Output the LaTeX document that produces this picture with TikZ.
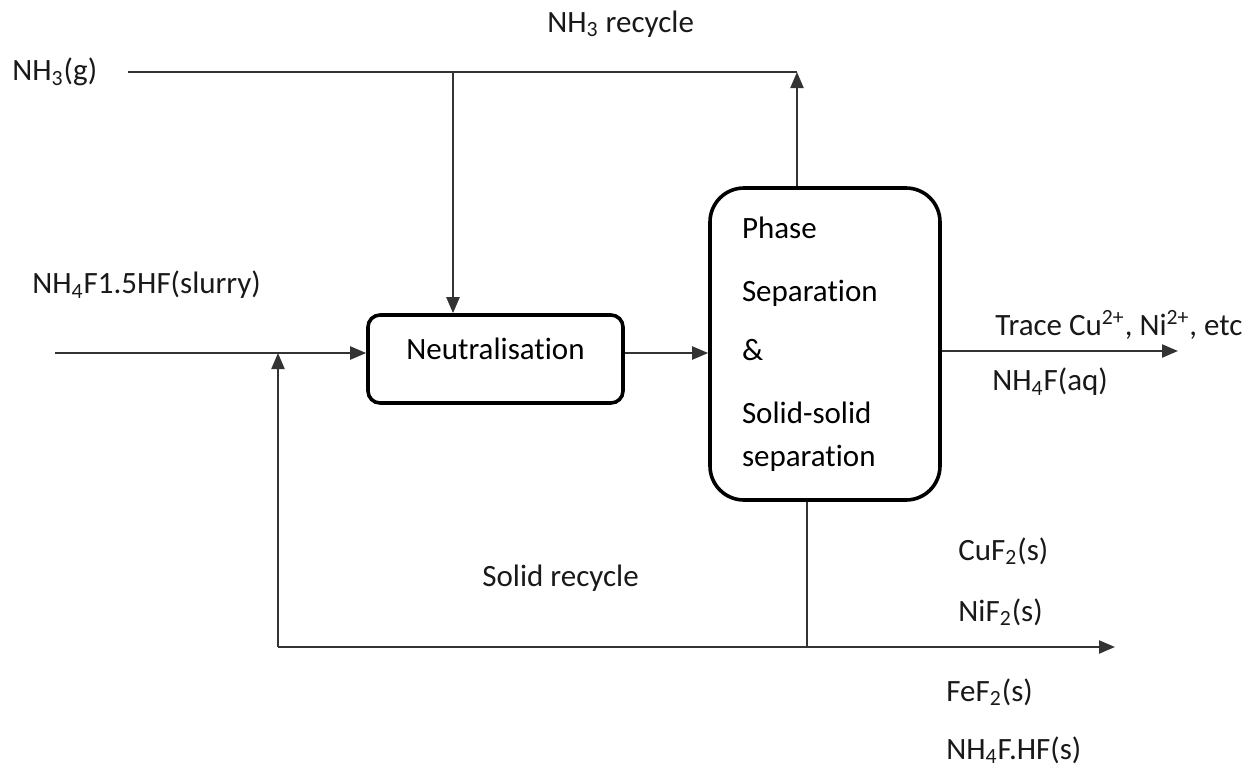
\documentclass[tikz,border=0pt]{standalone}
\usepackage{fontspec}
\setmainfont[Ligatures=NoCommon,Contextuals=NoAlternate,RawFeature=-dlig]{Carlito}
\usetikzlibrary{arrows.meta}

\begin{document}
\begin{tikzpicture}[x=0.5pt,y=-0.5pt,
    font=\fontsize{15.5}{18}\selectfont,
    unit/.style={draw,line width=1.8pt,fill=white},
    stream/.style={line width=1.1pt,draw=black!80},
    flow/.style={stream,-{Triangle[length=8pt,width=6.5pt]}},
    tag/.style={anchor=west,inner sep=0pt,text=black!90}]
  \useasboundingbox (0,0) rectangle (1250,767);

  % process units
  \node at (495.5,359) [unit,rounded corners=6pt,minimum width=127.5pt,minimum height=44pt,text depth=10pt] (neut) {
    Neutralisation
  };

  \node at (825,344) [unit,rounded corners=17pt,minimum width=115pt,minimum height=156pt,
    inner xsep=16pt,text width=83pt,align=left,font=\fontsize{15.5}{21.5}\selectfont] (sep) {
    Phase\\[10pt]Separation\\[8pt]\&\\[10pt]Solid-solid\\separation
  };

  % stream labels
  \node at (12,72) [tag] (gas) {NH\textsubscript{3}(g)};
  \node at (547,24) [tag] (nhrec) {NH\textsubscript{3} recycle};
  \node at (32,285) [tag] (slurry) {NH\textsubscript{4}F1.5HF(slurry)};
  \node at (995,325) [tag] (trace) {Trace Cu\textsuperscript{2+}, Ni\textsuperscript{2+}, etc};
  \node at (992,382) [tag] (liquor) {NH\textsubscript{4}F(aq)};
  \node at (482,578) [tag] (solrec) {Solid recycle};
  \node at (958,551) [tag] (cu) {CuF\textsubscript{2}(s)};
  \node at (958,612) [tag] (ni) {NiF\textsubscript{2}(s)};
  \node at (946,692) [tag] (fe) {FeF\textsubscript{2}(s)};
  \node at (946,750) [tag] (bif) {NH\textsubscript{4}F.HF(s)};

  % end points of the streams
  \coordinate (gasin) at (128,72);
  \coordinate (split) at (453,72);
  \coordinate (top) at (797,72);
  \coordinate (feed) at (55,353);
  \coordinate (mix) at (278,353);
  \coordinate (back) at (278,647);
  \coordinate (under) at (807,647);
  \coordinate (solout) at (1115,647);
  \coordinate (liqout) at (1178,351);

  % ammonia feed and recycle
  \path[stream] (gasin) -- (top);
  \path[flow] (split) -- (split |- neut.north);
  \path[flow] ([xshift=-14pt]sep.north) -- (top);

  % slurry feed
  \path[flow] (feed) -- (feed -| neut.west);
  \path[flow] (neut.east |- feed) -- (sep.west |- feed);

  % products
  \path[flow] (sep.east |- liqout) -- (liqout);
  \path[stream] ([xshift=-9pt]sep.south) -- (under);
  \path[flow] (back) -- (solout);
  \path[flow] (back) -- (mix);
\end{tikzpicture}
\end{document}
